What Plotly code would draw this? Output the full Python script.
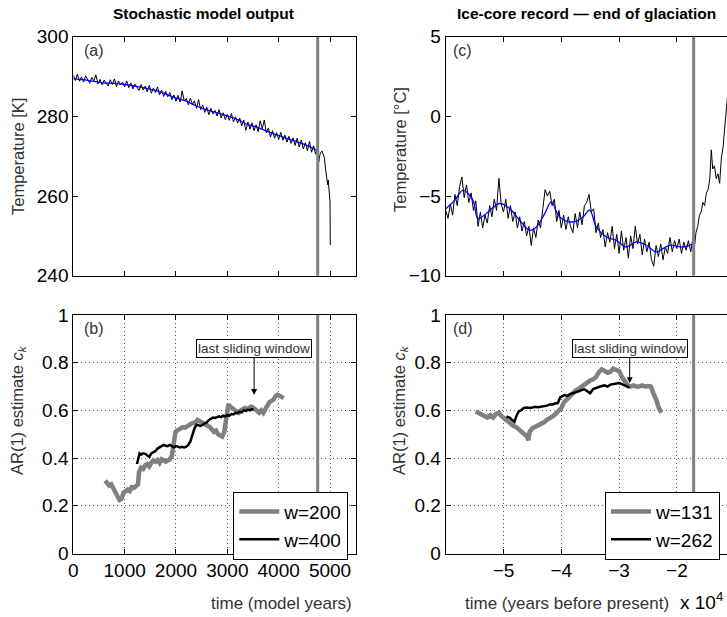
import numpy as np
import plotly.graph_objects as go
from plotly.subplots import make_subplots

# ---- (a) stochastic model temperature ----
model_t_start, model_t_step = 0, 40
model_temp = [
    290.3, 289.0, 290.6, 288.8, 289.9, 288.6, 290.2, 289.4, 288.3, 289.8,
    288.9, 290.4, 288.1, 289.3, 287.9, 289.1, 288.4, 287.6, 289.2, 288.0,
    289.4, 287.5, 288.9, 287.9, 288.6, 287.4, 288.9, 287.2, 288.4, 286.9,
    288.1, 287.3, 286.5, 288.0, 286.6, 287.6, 286.2, 287.8, 285.8, 287.1,
    286.0, 287.4, 285.4, 286.6, 285.0, 286.3, 284.9, 286.0, 284.2, 285.4,
    283.8, 285.3, 283.6, 286.4, 283.9, 284.5, 282.9, 284.6, 283.0, 283.9,
    282.0, 284.2, 281.7, 282.9, 281.0, 282.3, 280.4, 282.0, 280.6, 281.5,
    280.1, 281.7, 279.6, 280.9, 279.2, 280.5, 279.0, 280.7, 278.6, 279.9,
    278.3, 279.6, 277.6, 279.1, 276.5, 278.6, 276.8, 278.4, 276.4, 277.9,
    276.2, 278.9, 276.9, 279.1, 275.9, 277.1, 274.8, 276.4, 274.5, 275.9,
    274.2, 276.0, 274.0, 275.3, 273.5, 275.0, 273.2, 274.6, 272.7, 274.5,
    272.3, 274.1, 271.8, 273.4, 271.4, 273.7, 271.0, 272.6, 270.5, 272.3,
]
model_tail_t = [4780, 4800, 4820, 4845, 4870, 4890, 4910, 4940, 4955, 4965, 4975, 4990, 5000, 5005]
model_tail_temp = [268.5, 270.2, 271.0, 271.3, 270.2, 269.6, 267.0, 263.8, 262.8, 264.0, 261.5, 259.5, 258.5, 247.7]

model_smooth_t = [0, 200, 400, 600, 800, 1000, 1200, 1400, 1600, 1800, 2000, 2200, 2400,
                  2600, 2800, 3000, 3200, 3400, 3600, 3800, 4000, 4200, 4400, 4600, 4760]
model_smooth = [289.5, 289.2, 288.8, 288.4, 288.3, 288.0, 287.6, 287.1, 286.5, 285.6, 284.6, 283.8, 282.6,
                281.6, 280.9, 280.1, 279.2, 277.9, 277.2, 276.1, 275.2, 274.3, 273.4, 272.4, 271.3]

# ---- (b) AR(1) of model ----
ar200_t = [620, 660, 700, 740, 780, 820, 860, 900, 940, 980, 1020, 1060, 1100, 1140, 1180, 1220, 1260,
           1280, 1320, 1360, 1400, 1440, 1480, 1520, 1560, 1600, 1640, 1680, 1720, 1760, 1800, 1840,
           1880, 1920, 1960, 1990, 2020, 2060, 2100, 2140, 2180, 2220, 2260, 2300, 2340, 2380, 2420,
           2460, 2500, 2540, 2580, 2620, 2660, 2700, 2740, 2780, 2820, 2860, 2900, 2940, 2980, 3020,
           3060, 3100, 3140, 3180, 3220, 3260, 3300, 3340, 3380, 3420, 3460, 3500, 3540, 3580, 3620,
           3660, 3700, 3740, 3780, 3820, 3860, 3900, 3940, 3980, 4020, 4060, 4100]
ar200 = [0.305, 0.295, 0.285, 0.29, 0.27, 0.25, 0.24, 0.225, 0.23, 0.255, 0.262, 0.268, 0.262, 0.278,
         0.275, 0.285, 0.29, 0.34, 0.36, 0.355, 0.37, 0.375, 0.365, 0.38, 0.39, 0.385, 0.392, 0.38,
         0.395, 0.39, 0.385, 0.39, 0.395, 0.41, 0.48, 0.51, 0.515, 0.52, 0.525, 0.53, 0.528, 0.535,
         0.54, 0.545, 0.548, 0.55, 0.56, 0.555, 0.55, 0.55, 0.545, 0.535, 0.53, 0.52, 0.51, 0.515,
         0.50, 0.495, 0.49, 0.51, 0.58, 0.625, 0.615, 0.61, 0.605, 0.598, 0.59, 0.6, 0.605, 0.61,
         0.605, 0.61, 0.615, 0.612, 0.605, 0.595, 0.59, 0.6, 0.59, 0.605, 0.62, 0.635, 0.64, 0.645,
         0.66, 0.665, 0.66, 0.655, 0.652]
ar400_t = [1240, 1270, 1290, 1320, 1360, 1400, 1440, 1480, 1520, 1560, 1600, 1640, 1680, 1720, 1760,
           1800, 1840, 1880, 1920, 1960, 2000, 2040, 2080, 2120, 2160, 2200, 2240, 2280, 2320, 2360,
           2400, 2440, 2480, 2520, 2560, 2600, 2640, 2680, 2720, 2760, 2800, 2840, 2880, 2920, 2960,
           3000, 3040, 3080, 3120, 3160, 3200, 3240, 3280, 3320, 3360, 3400, 3440, 3480, 3510]
ar400 = [0.375, 0.40, 0.42, 0.415, 0.42, 0.418, 0.41, 0.405, 0.42, 0.425, 0.43, 0.44, 0.445, 0.45,
         0.455, 0.452, 0.45, 0.455, 0.448, 0.445, 0.45, 0.448, 0.445, 0.447, 0.445, 0.448, 0.455,
         0.47, 0.50, 0.525, 0.54, 0.538, 0.535, 0.54, 0.545, 0.55, 0.56, 0.565, 0.57, 0.568, 0.572,
         0.575, 0.572, 0.578, 0.575, 0.58, 0.578, 0.585, 0.583, 0.59, 0.588, 0.595, 0.592, 0.6,
         0.598, 0.603, 0.60, 0.605, 0.603]

# ---- (c) ice-core temperature ----
ice_t_start, ice_t_step = -60000, 400
ice_temp = [
    -5.9, -6.4, -5.5, -6.2, -4.9, -5.6, -4.4, -3.8, -5.1, -4.3,
    -5.4, -4.8, -5.9, -5.3, -6.9, -6.0, -7.0, -6.2, -6.7, -5.6,
    -6.3, -5.2, -5.9, -3.9, -5.5, -6.0, -5.2, -6.4, -5.6, -6.6,
    -6.0, -7.0, -6.3, -7.2, -6.6, -7.5, -6.9, -8.1, -7.0, -7.6,
    -6.5, -7.0, -5.8, -4.6, -5.0, -4.7, -5.6, -5.2, -6.6, -5.9,
    -7.0, -6.2, -7.1, -6.3, -6.9, -7.3, -6.1, -7.0, -6.0, -6.8,
    -5.6, -5.4, -4.9, -6.0, -5.8, -7.3, -6.7, -7.6, -7.1, -8.2,
    -7.3, -7.9, -6.9, -8.3, -7.4, -8.6, -7.2, -8.4, -7.6, -8.9,
    -7.5, -8.3, -6.9, -8.0, -7.4, -8.7, -7.7, -8.5, -7.9, -9.0,
    -9.4, -8.1, -8.8, -8.0, -9.0, -8.2, -8.6, -7.6, -8.5, -7.8,
    -8.3, -7.7, -8.6, -7.9, -8.4, -7.8, -8.5, -7.6,
]
ice_tail_t = [-16900, -16700, -16400, -16100, -15800, -15500, -15200, -14900, -14600, -14300,
              -14050, -13800, -13500, -13200, -12900, -12600, -12300, -12000, -11700, -11450, -11200]
ice_tail_temp = [-8.0, -7.3, -6.9, -6.2, -6.0, -5.4, -5.6, -4.8, -4.6, -3.9,
                 -2.1, -3.3, -3.1, -3.9, -3.6, -4.2, -2.6, -1.9, -0.6, 0.7, 1.4]

ice_smooth_t = [-60000, -58450, -57010, -55280, -54410, -52970, -50660, -48930, -47200, -45470,
                -44320, -42870, -41720, -40280, -37970, -36240, -35090, -33940, -32210, -30480,
                -28750, -27020, -25290, -23560, -22400, -21250, -18940, -17100]
ice_smooth = [-5.8, -5.27, -4.64, -5.27, -6.42, -6.10, -5.47, -5.79, -6.52, -7.15,
              -6.94, -6.10, -5.37, -6.31, -6.63, -6.31, -5.89, -6.94, -7.57, -7.78,
              -8.20, -7.88, -8.09, -8.51, -8.30, -8.09, -8.20, -7.99]

# ---- (d) AR(1) of ice core ----
ar131_t = [-54800, -54300, -53800, -53300, -52800, -52300, -51800, -51300, -50800, -50300, -49800,
           -49300, -48800, -48300, -47800, -47300, -46800, -46300, -45900, -45700, -45500, -45000,
           -44500, -44000, -43500, -43000, -42500, -42000, -41500, -41000, -40500, -40000, -39500,
           -39000, -38500, -38000, -37500, -37000, -36500, -36000, -35500, -35000, -34500, -34000,
           -33500, -33000, -32500, -32000, -31500, -31000, -30500, -30000, -29500, -29000, -28500,
           -28000, -27500, -27000, -26500, -26000, -25500, -25000, -24500, -24200, -23800, -23500,
           -23200, -22900, -22700]
ar131 = [0.595, 0.59, 0.585, 0.575, 0.57, 0.58, 0.57, 0.585, 0.59, 0.575, 0.565, 0.55, 0.545, 0.535,
         0.53, 0.52, 0.51, 0.5, 0.49, 0.475, 0.51, 0.525, 0.53, 0.54, 0.545, 0.55, 0.56, 0.565, 0.575,
         0.585, 0.595, 0.61, 0.635, 0.648, 0.66, 0.668, 0.684, 0.69, 0.70, 0.71, 0.715, 0.725, 0.73,
         0.74, 0.76, 0.772, 0.765, 0.758, 0.762, 0.775, 0.77, 0.765, 0.74, 0.72, 0.705, 0.70, 0.705,
         0.70, 0.70, 0.705, 0.70, 0.702, 0.70, 0.68, 0.66, 0.64, 0.615, 0.60, 0.59]
ar262_t = [-49500, -49000, -48500, -48100, -47800, -47400, -47000, -46500, -46000, -45500, -45000,
           -44500, -44000, -43500, -43000, -42500, -42000, -41500, -41000, -40600, -40200, -39800,
           -39400, -39000, -38500, -38000, -37500, -37000, -36500, -36000, -35500, -35000, -34500,
           -34000, -33500, -33000, -32500, -32000, -31500, -31000, -30500, -30000, -29500, -29000,
           -28600, -28200]
ar262 = [0.575, 0.57, 0.56, 0.552, 0.575, 0.595, 0.60, 0.61, 0.612, 0.61, 0.612, 0.615, 0.613, 0.615,
         0.618, 0.62, 0.625, 0.625, 0.63, 0.63, 0.655, 0.66, 0.665, 0.66, 0.668, 0.672, 0.675, 0.68,
         0.685, 0.688, 0.68, 0.672, 0.69, 0.695, 0.70, 0.702, 0.705, 0.70, 0.708, 0.71, 0.712, 0.715,
         0.71, 0.705, 0.70, 0.695]

model_transition = 4760
ice_transition = -17100
arrow_b = (3522, 0.665)
arrow_d = (-28170, 0.714)

W, H = 727, 617
FONT = "Liberation Sans, Arial, sans-serif"
GRAY = "#808080"


def px(x):
    return x / W


def py(y):
    return 1 - y / H


model_t = model_t_start + model_t_step * np.arange(len(model_temp))
ice_t = ice_t_start + ice_t_step * np.arange(len(ice_temp))

fig = make_subplots(rows=2, cols=2)

# (a)
fig.add_trace(go.Scatter(x=list(model_t) + model_tail_t, y=model_temp + model_tail_temp, mode="lines",
                         line=dict(color="black", width=1), showlegend=False), row=1, col=1)
fig.add_trace(go.Scatter(x=model_smooth_t, y=model_smooth, mode="lines", line_shape="spline",
                         line=dict(color="#0000ff", width=1.3), showlegend=False), row=1, col=1)
# (c)
fig.add_trace(go.Scatter(x=list(ice_t) + ice_tail_t, y=ice_temp + ice_tail_temp, mode="lines",
                         line=dict(color="black", width=1), showlegend=False), row=1, col=2)
fig.add_trace(go.Scatter(x=ice_smooth_t, y=ice_smooth, mode="lines", line_shape="spline",
                         line=dict(color="#0000ff", width=1.3), showlegend=False), row=1, col=2)
# (b)
fig.add_trace(go.Scatter(x=ar200_t, y=ar200, mode="lines", name="w=200",
                         line=dict(color=GRAY, width=4.5), legend="legend"), row=2, col=1)
fig.add_trace(go.Scatter(x=ar400_t, y=ar400, mode="lines", name="w=400",
                         line=dict(color="black", width=2.5), legend="legend"), row=2, col=1)
# (d)
fig.add_trace(go.Scatter(x=ar131_t, y=ar131, mode="lines", name="w=131",
                         line=dict(color=GRAY, width=4.5), legend="legend2"), row=2, col=2)
fig.add_trace(go.Scatter(x=ar262_t, y=ar262, mode="lines", name="w=262",
                         line=dict(color="black", width=2.5), legend="legend2"), row=2, col=2)

left_dom = [px(73.3), px(355.7)]
right_dom = [px(445.7), 1.0]
top_dom = [py(275.7), py(36.7)]
bot_dom = [py(553.5), py(315)]

axis_common = dict(showline=True, linecolor="black", linewidth=1, ticks="inside", ticklen=5,
                   tickcolor="black", zeroline=False, automargin=False,
                   tickfont=dict(family=FONT, size=19, color="black"))
grid = dict(showgrid=True, gridcolor="#555", griddash="1px,3px", gridwidth=1)

fig.update_xaxes(axis_common)
fig.update_yaxes(axis_common)

fig.update_xaxes(domain=left_dom, range=[0, 5500], tickvals=[0, 1000, 2000, 3000, 4000, 5000],
                 mirror="ticks", showgrid=False, showticklabels=False, row=1, col=1)
fig.update_yaxes(domain=top_dom, range=[240, 300], tickvals=[240, 260, 280, 300],
                 mirror="ticks", showgrid=False, row=1, col=1)

fig.update_xaxes(domain=left_dom, range=[0, 5500], tickvals=[0, 1000, 2000, 3000, 4000, 5000],
                 mirror="ticks", **grid, row=2, col=1)
fig.update_yaxes(domain=bot_dom, range=[0, 1], tickvals=[0, 0.2, 0.4, 0.6, 0.8, 1],
                 ticktext=["0", "0.2", "0.4", "0.6", "0.8", "1"], mirror="ticks", **grid, row=2, col=1)

ice_ticks = [-50000, -40000, -30000, -20000]
ice_ticktext = ["\u22125", "\u22124", "\u22123", "\u22122"]
fig.update_xaxes(domain=right_dom, range=[-60000, -11330], tickvals=ice_ticks,
                 mirror="ticks", showgrid=False, showticklabels=False, row=1, col=2)
fig.update_yaxes(domain=top_dom, range=[-10, 5], tickvals=[-10, -5, 0, 5],
                 ticktext=["\u221210", "\u22125", "0", "5"], mirror=False, showgrid=False, row=1, col=2)

fig.update_xaxes(domain=right_dom, range=[-60000, -11330], tickvals=ice_ticks, ticktext=ice_ticktext,
                 mirror="ticks", **grid, row=2, col=2)
fig.update_yaxes(domain=bot_dom, range=[0, 1], tickvals=[0, 0.2, 0.4, 0.6, 0.8, 1],
                 ticktext=["0", "0.2", "0.4", "0.6", "0.8", "1"], mirror=False, **grid, row=2, col=2)

# transition markers
for xr, yr, xv in [("x", "y", model_transition), ("x3", "y3", model_transition),
                   ("x2", "y2", ice_transition), ("x4", "y4", ice_transition)]:
    fig.add_shape(type="line", xref=xr, yref=yr + " domain", x0=xv, x1=xv, y0=0, y1=1,
                  line=dict(color=GRAY, width=3))

text_gray = "#333333"
ann = []
# titles
ann.append(dict(text="<b>Stochastic model output</b>", x=px(203.5), y=py(13), font=dict(size=15.5)))
ann.append(dict(text="<b>Ice-core record \u2014 end of glaciation</b>", x=px(586), y=py(13), font=dict(size=15.5)))
# y titles
ann.append(dict(text="Temperature [K]", x=px(18), y=py(157), textangle=-90, font=dict(size=16.5, color=text_gray)))
ann.append(dict(text="AR(1) estimate <i>c</i><sub><i>k</i></sub>", x=px(18), y=py(410), textangle=-90,
                font=dict(size=16.5, color=text_gray)))
ann.append(dict(text="Temperature [\u00b0C]", x=px(400), y=py(150), textangle=-90, font=dict(size=16.5, color=text_gray)))
ann.append(dict(text="AR(1) estimate <i>c</i><sub><i>k</i></sub>", x=px(400), y=py(410), textangle=-90,
                font=dict(size=16.5, color=text_gray)))
# x titles
ann.append(dict(text="time (model years)", x=px(354), y=py(603), xanchor="right", font=dict(size=17, color=text_gray)))
ann.append(dict(text="time (years before present)", x=px(671), y=py(603), xanchor="right",
                font=dict(size=17, color=text_gray)))
ann.append(dict(text="x 10<sup>4</sup>", x=px(678), y=py(601), xanchor="left", font=dict(size=19, color="black")))
# panel labels
for lab, xx, yy in [("(a)", 81.7, 50), ("(b)", 81.7, 328), ("(c)", 451.3, 50), ("(d)", 451.3, 328)]:
    ann.append(dict(text=lab, x=px(xx), y=py(yy), xanchor="left", font=dict(size=16, color=text_gray)))

for a in ann:
    a.setdefault("xref", "paper")
    a.setdefault("yref", "paper")
    a.setdefault("showarrow", False)
    a.setdefault("xanchor", "center")
    a["yanchor"] = "middle"
    a["font"] = dict(family=FONT, **a["font"])
    if "color" not in a["font"]:
        a["font"]["color"] = "black"
    fig.add_annotation(**a)

for (xx, yy), xr, yr, ay in [(arrow_b, "x3", "y3", -46), (arrow_d, "x4", "y4", -35)]:
    fig.add_annotation(x=xx, y=yy, xref=xr, yref=yr, text="last sliding window", showarrow=True,
                       ax=0, ay=ay, arrowhead=2, arrowsize=1.2, arrowwidth=1, arrowcolor="black",
                       bordercolor="black", borderwidth=1, borderpad=1, bgcolor="white",
                       font=dict(family=FONT, size=13.5, color=text_gray))

legend_style = dict(bordercolor="black", borderwidth=1, bgcolor="white", xanchor="right", yanchor="top",
                    font=dict(family=FONT, size=19, color="black"), tracegroupgap=0, itemwidth=40)
fig.update_layout(
    width=W, height=H,
    margin=dict(l=0, r=0, t=0, b=0),
    plot_bgcolor="white", paper_bgcolor="white",
    font=dict(family=FONT),
    legend=dict(x=px(348.3), y=py(491.7), **legend_style),
    legend2=dict(x=px(720), y=py(491.7), **legend_style),
)

# the page's default body margin would shift the figure; remove it
fig.write_html("out.html", config={"displayModeBar": False},
               post_script="document.body.style.margin='0';")
